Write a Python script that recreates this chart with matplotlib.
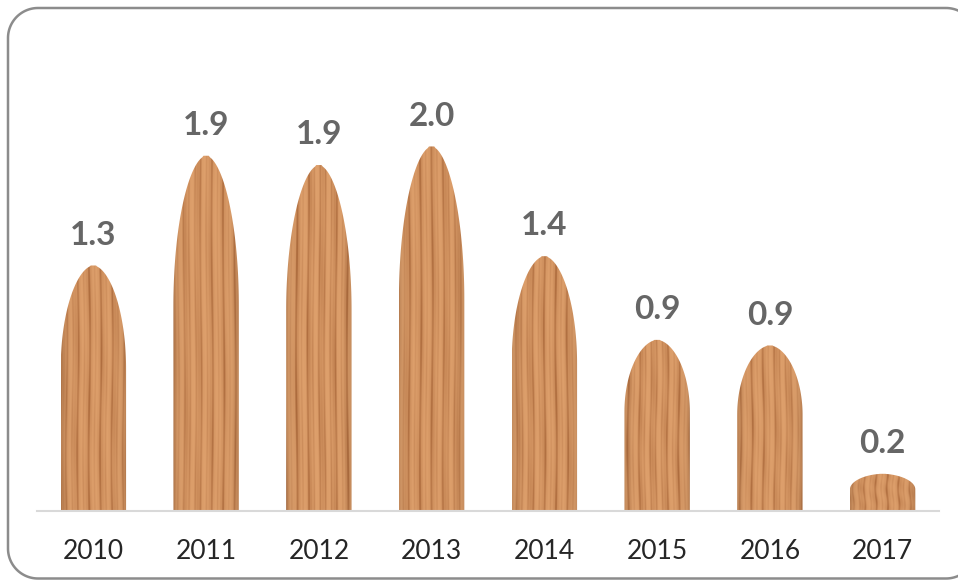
import numpy as np
import matplotlib
matplotlib.use("Agg")
import matplotlib.pyplot as plt
from matplotlib.path import Path
from matplotlib.patches import PathPatch

years = ["2010", "2011", "2012", "2013", "2014", "2015", "2016", "2017"]
values = [1.32, 1.91, 1.86, 1.96, 1.37, 0.92, 0.89, 0.20]

plt.rcParams['font.family'] = ['Lato', 'DejaVu Sans']

W, H = 958, 580
fig = plt.figure(figsize=(W / 100, H / 100), dpi=100)


def rounded_rect_pixels(x0, y0, x1, y1, r, n=30):
    """Rounded rectangle in pixel coords (origin top-left), returned in figure fractions."""
    pts = []
    corners = [(x1 - r, y0 + r, -90, 0), (x1 - r, y1 - r, 0, 90),
               (x0 + r, y1 - r, 90, 180), (x0 + r, y0 + r, 180, 270)]
    for cx, cy, a0, a1 in corners:
        a = np.radians(np.linspace(a0, a1, n))
        pts.extend(zip(cx + r * np.cos(a), cy + r * np.sin(a)))
    pts.append(pts[0])
    pts = np.array(pts)
    return np.column_stack([pts[:, 0] / W, 1 - pts[:, 1] / H])


fv = rounded_rect_pixels(8, 8, 976, 578.5, 30)
frame = PathPatch(Path(fv), transform=fig.transFigure, facecolor="none",
                  edgecolor="#8c8c8c", linewidth=1.8, zorder=-1)
fig.patches.append(frame)

ax = fig.add_axes([37 / W, 69 / H, 902 / W, 446.4 / H])
ax.set_xlim(-0.5, len(years) - 0.5)
ax.set_ylim(0, 2.4)
ax.patch.set_alpha(0)
for s in ["top", "right", "left"]:
    ax.spines[s].set_visible(False)
ax.spines["bottom"].set_color("#d9d9d9")
ax.spines["bottom"].set_linewidth(1.5)
ax.set_yticks([])
ax.set_xticks(range(len(years)))
ax.set_xticklabels(years, fontsize=19, color="#262626")
ax.tick_params(axis="x", length=0, pad=20)


def wood_texture(nx=160, ny=300, ph=0.0):
    x = np.linspace(0, 1, nx)[None, :]
    y = np.linspace(0, 1, ny)[:, None]
    xw = x + 0.012 * np.sin(2 * np.pi * (1.1 * y + ph))
    g = (0.40 * np.sin(2 * np.pi * 5.3 * xw + 3 * ph)
         + 0.30 * np.sin(2 * np.pi * 11.7 * xw + 1.3 + ph)
         + 0.22 * np.sin(2 * np.pi * 23.1 * xw + 2.1 + 2 * ph)
         + 0.12 * np.sin(2 * np.pi * 41.3 * xw + 0.7 * ph)
         + 0.10 * np.sin(2 * np.pi * (2.2 * y + 3.0 * x) + ph))
    t = (g - g.min()) / (g.max() - g.min())
    t = t ** 2.2
    light = np.array([222, 160, 108]) / 255.0
    dark = np.array([170, 104, 58]) / 255.0
    img = light[None, None, :] * (1 - t[..., None]) + dark[None, None, :] * t[..., None]
    edge = np.clip(np.abs(x - 0.5) * 2, 0, 1)[..., None] ** 6
    img = img * (1 - 0.10 * edge)
    return np.clip(img, 0, 1)


bw = 0.58
for i, v in enumerate(values):
    hw = bw / 2
    cap = 0.42 * v
    body = v - cap
    s = np.linspace(0, 1, 100)
    right_x = i + hw * np.clip(1 - s ** 2, 0, 1) ** 0.55
    right_x = np.maximum(right_x, i + hw * 0.08)
    right_y = body + cap * s
    left_x = (2 * i - right_x)[::-1]
    left_y = right_y[::-1]
    xs = np.concatenate([[i - hw, i + hw], right_x, left_x, [i - hw]])
    ys = np.concatenate([[0, 0], right_y, left_y, [0]])
    verts = np.column_stack([xs, ys])
    codes = [Path.MOVETO] + [Path.LINETO] * (len(verts) - 2) + [Path.CLOSEPOLY]
    path = Path(verts, codes)
    patch = PathPatch(path, facecolor="none", edgecolor="none")
    ax.add_patch(patch)
    im = ax.imshow(wood_texture(ph=0.37 * i), extent=[i - hw, i + hw, 0, v],
                   aspect="auto", origin="lower", interpolation="bilinear", zorder=2)
    im.set_clip_path(patch)
    ax.annotate(f"{v:.1f}", xy=(i, v), xytext=(0, 15), textcoords="offset points",
                ha="center", va="baseline", fontsize=24, fontweight="bold",
                color="#666666")

ax.set_xlim(-0.5, len(years) - 0.5)
ax.set_ylim(0, 2.4)
fig.savefig("out.png", dpi=100)
